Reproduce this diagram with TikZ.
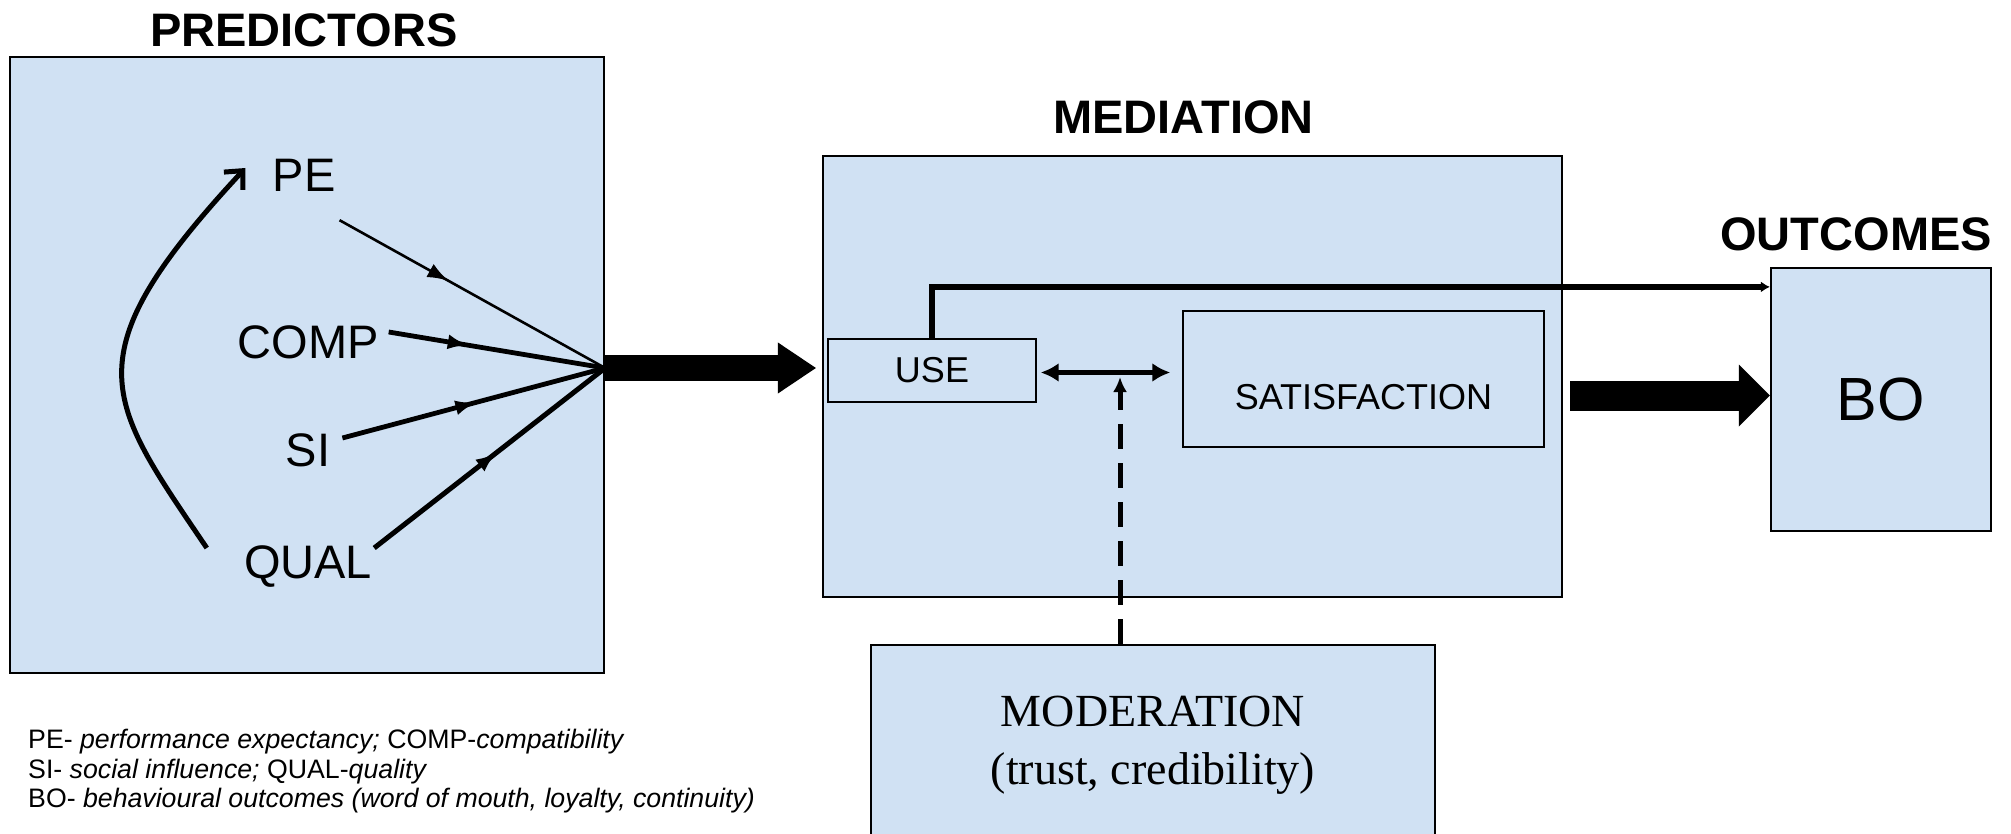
\documentclass[tikz,border=0pt]{standalone}
\usepackage{fontspec}
\setmainfont{Liberation Sans}
\newfontfamily\seriffont{Liberation Serif}
\usepackage{tikz}
\usetikzlibrary{arrows.meta,decorations.markings,calc}

\definecolor{paleblue}{RGB}{208,225,243}

\tikzset{
  panel/.style={draw=black,line width=2.2pt,fill=paleblue,inner sep=0pt},
  innerbox/.style={draw=black,line width=1.4pt,inner sep=0pt},
  boxtext/.style={font=\fontsize{36}{40}\selectfont,inner sep=0pt},
  heading/.style={font=\fontsize{47}{50}\selectfont\bfseries,inner sep=0pt},
  factor/.style={font=\fontsize{47}{50}\selectfont,inner sep=4pt,text height=34pt,text depth=0pt},
  midtip/.style={postaction={decorate},decoration={markings,
      mark=at position #1 with {\arrow{Latex[length=21pt,width=15pt]}}}},
  fatarrow/.style n args={3}{line width=#1,-{Triangle[length=#2,width=#3,line width=0pt]}}
}

\begin{document}
\begin{tikzpicture}[x=1pt,y=-1pt]
\useasboundingbox (0,0) rectangle (2011,834);
\clip (0,0) rectangle (2011,834);

    % boxes
    \node[panel,minimum width=594pt,minimum height=616pt] (pred) at (307,365) {};
    \node[panel,minimum width=739pt,minimum height=441pt] (med) at (1192.5,376.5) {};
    \node[panel,minimum width=220pt,minimum height=263pt,font=\fontsize{61}{64}\selectfont] (bo) at (1881,399.5) {BO};
    \node[panel,minimum width=564pt,minimum height=200pt,align=center,
          font=\seriffont\fontsize{46}{58}\selectfont] (mod) at (1153,745) {MODERATION\\(trust, credibility)};

    \node[heading,anchor=base] (predtitle) at ($(pred.north)+(-3,-9)$) {PREDICTORS};
    \node[heading,anchor=base] (medtitle) at ($(med.north)+(-9,-21)$) {MEDIATION};
    \node[heading,anchor=base east] (outtitle) at ($(bo.north east)+(0,-16)$) {OUTCOMES};

    % predictors
    \node[factor] (pe) at (304,175) {PE};
    \node[factor] (comp) at (308,342) {COMP};
    \node[factor] (si) at (308,449) {SI};
    \node[factor] (qual) at (308,561) {QUAL};
    \coordinate (hub) at ($(pred.east)+(0,3)$);

    \draw[line width=2.6pt,midtip=0.41] ($(pe.south east)+(0,24)$) -- (hub);
    \draw[line width=4.8pt,midtip=0.37] ($(comp.east)+(6,-10)$) -- (hub);
    \draw[line width=4.8pt,midtip=0.51] ($(si.east)+(8,-11)$) -- (hub);
    \draw[line width=5pt,midtip=0.53] ($(qual.east)+(-2,-13)$) -- (hub);

    \draw[line width=5pt,-{Straight Barb[length=14pt,width=26pt,line width=5pt]}]
        ($(qual.west)+(-33,-13)$) .. controls (106,399) and (69,358) .. ($(pe.west)+(-23,-7)$);

    \draw[fatarrow={26pt}{38pt}{51pt}] (hub) -- ($(med.west |- hub)+(-6,0)$);

    % mediation
    \node[innerbox,minimum width=208pt,minimum height=63pt,boxtext] (use) at (932,370.5) {USE};
    \node[innerbox,minimum width=361pt,minimum height=136pt] (sat) at (1363.5,379) {};
    \node[boxtext] (sattext) at ($(sat.center)+(0,18)$) {SATISFACTION};

    \draw[line width=4.5pt,{Latex[length=18pt,width=19pt]}-{Latex[length=18pt,width=19pt]}]
        ($(use.east)+(4,2)$) -- ($(use.east -| sat.west)+(-12,2)$);

    \coordinate (meet) at (1120,377);
    \draw[line width=5pt,dash pattern=on 25pt off 14pt,-{Latex[length=15pt,width=14pt]}]
        (mod.north -| meet) -- (meet);

    \draw[line width=5.5pt,-{Latex[length=9pt,width=11pt]}]
        (use.north) |- ($(bo.north west)+(0,20)$);

    \draw[fatarrow={30pt}{31pt}{62pt}] ($(med.east |- bo.west)+(7,-4)$) -- ($(bo.west)+(0,-4)$);

    % key
    \node[anchor=north west,align=left,inner sep=0pt,font=\fontsize{26.7}{29.5}\selectfont] (key) at (28,729)
        {PE- \textit{performance expectancy;} COMP-\textit{compatibility}\\
         SI- \textit{social influence;} QUAL-\textit{quality}\\
         BO- \textit{behavioural outcomes (word of mouth, loyalty, continuity)}};

\end{tikzpicture}
\end{document}
